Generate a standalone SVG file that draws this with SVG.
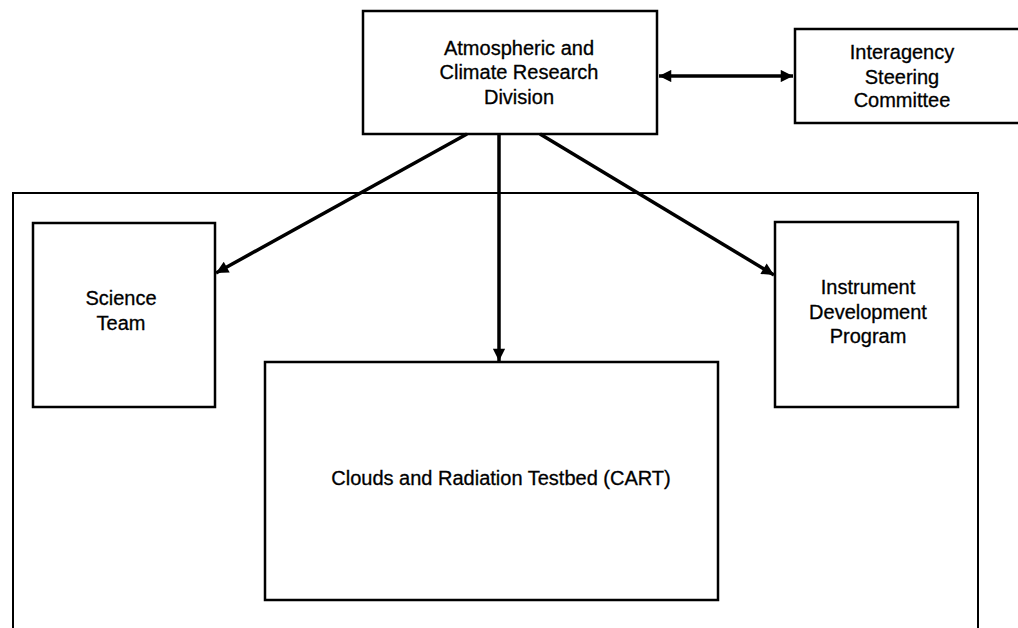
<svg xmlns="http://www.w3.org/2000/svg" width="1018" height="628" viewBox="0 0 1018 628">
<style>
.box{fill:#fff;stroke:#000;stroke-width:2.5}
.outer{fill:none;stroke:#000;stroke-width:2}
.lbl{font-family:"Liberation Sans",Arial,sans-serif;font-size:20px;fill:#000;stroke:#000;stroke-width:0.3;text-anchor:middle;dominant-baseline:central}
.con{stroke:#000;stroke-width:3.5;fill:none}
</style>
<defs>
<marker id="ah" viewBox="0 0 10 10" refX="10" refY="5" markerWidth="4" markerHeight="3.5" markerUnits="strokeWidth" orient="auto-start-reverse">
<path d="M0,0 L10,5 L0,10 z" fill="#000"/>
</marker>
</defs>
<rect width="1018" height="628" fill="#fff"/>
<g id="outer-frame">
<path class="outer" d="M13,628 V193 H978 V628"/>
</g>
<g id="acrd">
<rect class="box" x="363" y="11" width="294" height="123"/>
<text class="lbl" x="519" y="48">Atmospheric and</text>
<text class="lbl" x="519" y="72">Climate Research</text>
<text class="lbl" x="519" y="97">Division</text>
</g>
<g id="isc">
<rect class="box" x="795" y="29" width="240" height="94"/>
<text class="lbl" x="902" y="52">Interagency</text>
<text class="lbl" x="902" y="77">Steering</text>
<text class="lbl" x="902" y="100">Committee</text>
</g>
<g id="science-team">
<rect class="box" x="33" y="223" width="182" height="184"/>
<text class="lbl" x="121" y="298">Science</text>
<text class="lbl" x="121" y="323">Team</text>
</g>
<g id="instrument">
<rect class="box" x="775" y="222" width="183" height="185"/>
<text class="lbl" x="868" y="287">Instrument</text>
<text class="lbl" x="868" y="312">Development</text>
<text class="lbl" x="868" y="336">Program</text>
</g>
<g id="cart">
<rect class="box" x="265" y="362" width="453" height="238"/>
<text class="lbl" x="501" y="478">Clouds and Radiation Testbed (CART)</text>
</g>
<g id="connectors">
<line class="con" x1="659" y1="76" x2="793" y2="76" marker-start="url(#ah)" marker-end="url(#ah)"/>
<line class="con" x1="467" y1="134" x2="216" y2="273" marker-end="url(#ah)"/>
<line class="con" x1="499" y1="134" x2="499" y2="361" marker-end="url(#ah)"/>
<line class="con" x1="540" y1="134" x2="774" y2="275" marker-end="url(#ah)"/>
</g>
</svg>
